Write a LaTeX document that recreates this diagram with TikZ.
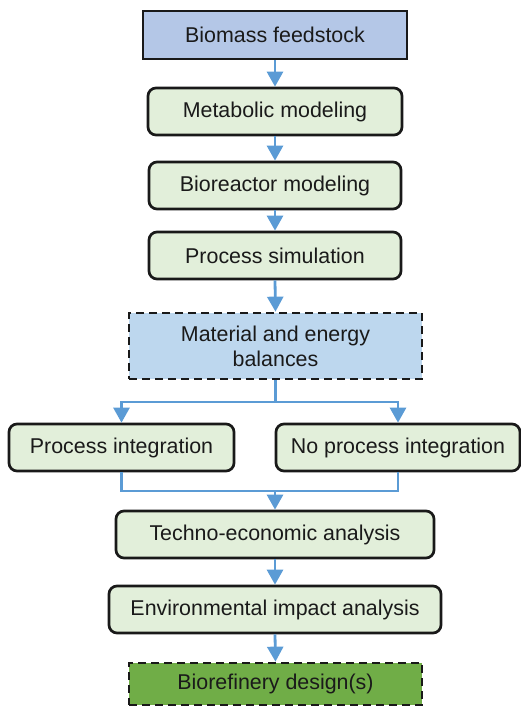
\documentclass[tikz,border=0pt]{standalone}
\usepackage{fontspec}
\setmainfont{Liberation Sans}
\usetikzlibrary{arrows.meta}
\definecolor{bluefill}{HTML}{B4C7E7}
\definecolor{matfill}{HTML}{BDD7EE}
\definecolor{greenfill}{HTML}{E2EFDA}
\definecolor{darkgreen}{HTML}{70AD47}
\definecolor{arrowblue}{HTML}{5B9BD5}
\definecolor{textgray}{HTML}{1A1A1A}
\tikzset{
  box/.style={draw=black!90, line width=2.7pt, inner sep=0pt, text=textgray,
    font=\fontsize{21.4}{25}\selectfont, align=center},
  roundbox/.style={box, fill=greenfill, rounded corners=8pt},
  dashbox/.style={box, dash pattern=on 8pt off 5pt},
  conn/.style={draw=arrowblue, line width=2.8pt},
  arr/.style={conn, -{Triangle[width=16pt,length=15pt]}}
}
\begin{document}
\begin{tikzpicture}[x=1pt,y=-1pt]
\useasboundingbox (0,0) rectangle (521,706);
\node[box, fill=bluefill, minimum width=264pt, minimum height=48pt] (bio) at (275,35) {Biomass feedstock};
\node[roundbox, minimum width=254pt, minimum height=47pt] (met) at (275,111.5) {Metabolic modeling};
\node[roundbox, minimum width=252pt, minimum height=47pt] (bior) at (275,185.5) {Bioreactor modeling};
\node[roundbox, minimum width=252pt, minimum height=47pt] (sim) at (275,255.5) {Process simulation};
\node[dashbox, fill=matfill, minimum width=293pt, minimum height=66pt] (mat) at (275.5,346) {Material and energy\\balances};
\node[roundbox, minimum width=225pt, minimum height=47pt] (pi) at (121.5,447.5) {Process integration};
\node[roundbox, minimum width=244pt, minimum height=47pt] (npi) at (398,447.5) {No process integration};
\node[roundbox, minimum width=318pt, minimum height=47pt] (tea) at (275,534.5) {Techno-economic analysis};
\node[roundbox, minimum width=332pt, minimum height=47pt] (env) at (275,609.5) {Environmental impact analysis};
\node[dashbox, fill=darkgreen, minimum width=293pt, minimum height=42pt] (ref) at (275.5,684) {Biorefinery design(s)};
\coordinate (split) at (275.5,402);
\coordinate (merge) at (275,491);
\draw[arr] (bio) -- (met);
\draw[arr] (met) -- (bior);
\draw[arr] (bior) -- (sim);
\draw[arr] (sim.south) -- (mat.north);
\draw[conn] (mat.south) -- (split);
\draw[arr] (split) -| (pi.north);
\draw[arr] (split) -| (npi.north);
\draw[conn] (pi.south) |- (merge) -| (npi.south);
\draw[arr] (merge) -- (tea.north);
\draw[arr] (tea) -- (env);
\draw[arr] (env.south) -- (ref.north);
\end{tikzpicture}
\end{document}
